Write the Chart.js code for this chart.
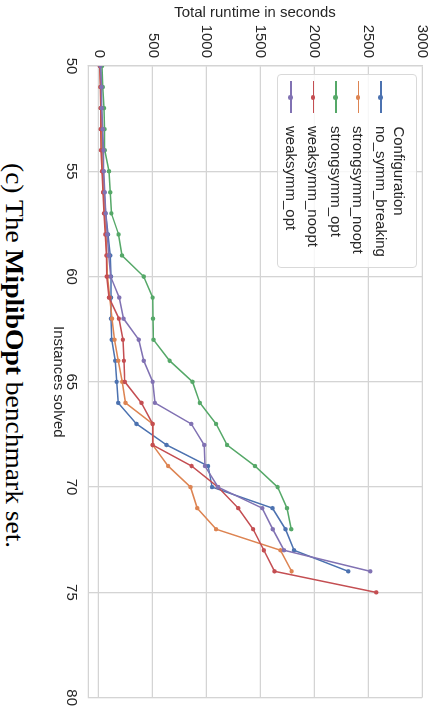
<!DOCTYPE html>
<html>
<head>
<meta charset="utf-8">
<script src="https://cdn.jsdelivr.net/npm/chart.js@4.4.1/dist/chart.umd.min.js"></script>
<style>
  html, body { margin: 0; padding: 0; background: #fff; overflow: hidden; }
  /* the figure is built upright (714x439) and then turned a quarter clockwise */
  #page { position: absolute; left: 0; top: 0; width: 714px; height: 439px;
          transform-origin: 0 0; transform: translate(439px, 0) rotate(90deg); background: #fff; }
  #chart { position: absolute; left: 0; top: 0; }
  #legend { position: absolute; left: 74px; top: 22px; width: 192px; height: 138px;
            border: 1px solid #d9d9d9; border-radius: 4px; background: rgba(255,255,255,0.8);
            font: 15px "Liberation Sans", Arial, sans-serif; color: #262626; }
  #legend .title { position: absolute; left: 0; width: 100%; text-align: center; line-height: 18px; }
  #legend .row { position: absolute; left: 0; width: 100%; height: 18px; }
  #legend .line { position: absolute; left: 6px; width: 32px; top: 8px; height: 1.6px; }
  #legend .dot { position: absolute; left: 20px; top: 7px; width: 4.5px; height: 4.5px; border-radius: 50%; }
  #legend .label { position: absolute; left: 51px; top: 0; line-height: 18px; white-space: nowrap; }
  #caption { position: absolute; left: 163px; top: 411px; line-height: 25px; white-space: nowrap;
             font: 25px "Liberation Serif", "Times New Roman", serif; color: #000; transform-origin: 0 0; }
</style>
</head>
<body>
<div id="page">
  <canvas id="chart" width="714" height="400"></canvas>
  <div id="legend"></div>
  <div id="caption">(c) The <b>MiplibOpt</b> benchmark set.</div>
</div>
<script>
// Данные
const instances = [50, 51, 52, 53, 54, 55, 56, 57, 58, 59, 60, 61, 62, 63, 64, 65, 66, 67, 68, 69, 70, 71, 72, 73, 74, 75];

const noSymmBreaking  = [15, 22, 25, 30, 36, 42, 48, 64, 86, 107, 113, 113, 114, 120, 153, 166, 181, 350, 629, 1015, 1052, 1612, 1733, 1812, 2316];
const strongsymmNoopt = [10, 15, 18, 22, 27, 34, 43, 55, 66, 75, 80, 101, 123, 147, 181, 218, 248, 500, 500, 644, 852, 914, 1089, 1686, 1790];
const strongsymmOpt   = [30, 38, 48, 54, 56, 95, 107, 117, 184, 215, 417, 500, 503, 508, 658, 870, 938, 1089, 1191, 1450, 1660, 1747, 1786];
const weaksymmNoopt   = [10, 15, 18, 18, 21, 31, 40, 49, 61, 71, 74, 95, 187, 224, 233, 242, 396, 500, 500, 862, 1107, 1294, 1433, 1532, 1631, 2575];
const weaksymmOpt     = [15, 25, 28, 37, 45, 46, 55, 64, 78, 92, 110, 190, 230, 371, 417, 500, 521, 859, 979, 985, 1107, 1517, 1615, 1719, 2520];

const seriesNames = ['no_symm_breaking', 'strongsymm_noopt', 'strongsymm_opt', 'weaksymm_noopt', 'weaksymm_opt'];
const seriesValues = [noSymmBreaking, strongsymmNoopt, strongsymmOpt, weaksymmNoopt, weaksymmOpt];

const instanceTicks = [50, 55, 60, 65, 70, 75, 80];
const runtimeTicks = [0, 500, 1000, 1500, 2000, 2500, 3000];

const colors = ['#4c72b0', '#dd8452', '#55a868', '#c44e52', '#8172b3'];
const gridColor = '#d4d4d4';
const textColor = '#262626';
const font = { family: '"Liberation Sans", Arial, sans-serif', size: 15 };

const datasets = seriesNames.map((name, i) => ({
    label: name,
    data: seriesValues[i].map((v, j) => ({ x: instances[j], y: v })),
    borderColor: colors[i],
    backgroundColor: colors[i],
    borderWidth: 1.5,
    pointRadius: 2.2,
    pointBorderWidth: 0,
    pointBackgroundColor: colors[i],
    tension: 0,
    order: seriesNames.length - 1 - i   // последний ряд рисуется сверху, как в matplotlib
}));

new Chart(document.getElementById('chart').getContext('2d'), {
    type: 'line',
    data: { datasets },
    options: {
        responsive: false,
        animation: false,
        devicePixelRatio: 1,
        layout: { padding: { left: 0, right: 12, top: 14, bottom: 0 } },
        plugins: { legend: { display: false }, tooltip: { enabled: false } },
        scales: {
            x: {
                type: 'linear', min: 50, max: 80,
                afterBuildTicks: a => { a.ticks = instanceTicks.map(v => ({ value: v })); },
                afterFit: s => { s.height = 49; },
                grid: { color: gridColor, lineWidth: 1.3, drawTicks: false },
                border: { color: gridColor, width: 1.3 },
                ticks: { padding: 8, color: textColor, font, maxRotation: 0, callback: v => String(v) },
                title: { display: true, text: 'Instances solved', color: textColor, font, padding: { top: 0, bottom: 10 } }
            },
            y: {
                type: 'linear', min: -100, max: 3000,
                afterBuildTicks: a => { a.ticks = runtimeTicks.map(v => ({ value: v })); },
                afterFit: s => { s.width = 66; },
                grid: { color: gridColor, lineWidth: 1.3, drawTicks: false },
                border: { color: gridColor, width: 1.3 },
                ticks: { padding: 8, color: textColor, font, callback: v => String(v) },
                title: { display: true, text: 'Total runtime in seconds', color: textColor, font, padding: { top: 4, bottom: 0 } }
            }
        }
    }
});

// Легенда внутри области графика
const legend = document.getElementById('legend');
legend.innerHTML = '<div class="title" style="top:8px">Configuration</div>';
seriesNames.forEach((name, i) => {
    const row = document.createElement('div');
    row.className = 'row';
    row.style.top = (26 + i * 22.5) + 'px';
    row.innerHTML = `<div class="line" style="background:${colors[i]}"></div>` +
                    `<div class="dot" style="background:${colors[i]}"></div>` +
                    `<div class="label">${name}</div>`;
    legend.appendChild(row);
});

// Подпись растягиваем до ширины оригинала
const caption = document.getElementById('caption');
caption.style.transform = `scaleX(${385 / caption.offsetWidth})`;
</script>
</body>
</html>
